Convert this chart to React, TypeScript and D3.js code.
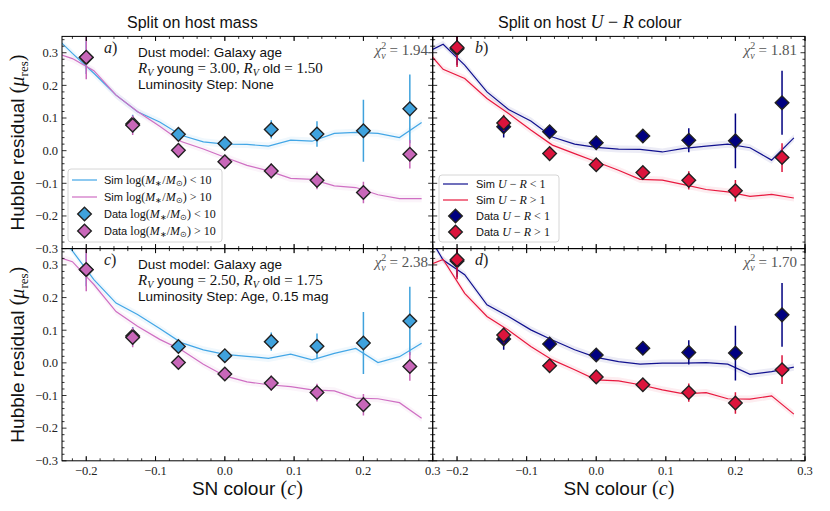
import React from 'react';
import * as d3 from 'd3';

// ---------- data ----------
const simX = [-0.252, -0.22, -0.189, -0.157, -0.126, -0.094, -0.063, -0.031, 0.0, 0.032, 0.063, 0.095, 0.126, 0.158, 0.189, 0.221, 0.252, 0.284];

const simA_low = [0.364, 0.298, 0.237, 0.17, 0.119, 0.088, 0.047, 0.027, 0.02, 0.019, 0.014, 0.032, 0.029, 0.053, 0.056, 0.053, 0.04, 0.086];
const simA_high = [0.305, 0.282, 0.245, 0.17, 0.12, 0.075, 0.028, 0.005, -0.02, -0.045, -0.062, -0.085, -0.088, -0.108, -0.113, -0.135, -0.147, -0.147];
const simC_low = [0.43, 0.343, 0.255, 0.183, 0.148, 0.105, 0.062, 0.04, 0.026, 0.02, 0.014, 0.027, 0.009, 0.029, 0.044, 0.001, 0.019, 0.06];
const simC_high = [0.331, 0.31, 0.24, 0.157, 0.112, 0.072, 0.04, -0.004, -0.04, -0.058, -0.067, -0.073, -0.083, -0.086, -0.108, -0.11, -0.122, -0.17];
const simB_low = [0.292, 0.326, 0.262, 0.18, 0.126, 0.091, 0.042, 0.02, 0.01, 0.005, 0.004, -0.004, 0.007, 0.014, 0.02, 0.009, -0.029, 0.039];
const simB_high = [0.328, 0.249, 0.221, 0.16, 0.114, 0.063, 0.017, -0.009, -0.034, -0.06, -0.088, -0.09, -0.104, -0.119, -0.126, -0.14, -0.134, -0.145];
const simD_low = [0.43, 0.315, 0.27, 0.178, 0.142, 0.101, 0.07, 0.04, 0.017, 0.004, -0.004, -0.001, -0.001, 0.001, -0.004, -0.035, -0.027, -0.013];
const simD_high = [0.29, 0.317, 0.213, 0.142, 0.1, 0.05, 0.009, -0.021, -0.052, -0.055, -0.067, -0.083, -0.095, -0.091, -0.11, -0.111, -0.101, -0.157];

const dataX = [-0.2, -0.133, -0.067, 0.0, 0.067, 0.133, 0.2, 0.267];
const massLowY = [0.285, 0.082, 0.05, 0.022, 0.065, 0.051, 0.061, 0.128];
const massLowErr = [0.05, 0.028, 0.018, 0.015, 0.028, 0.039, 0.095, 0.105];
const massHighY = [0.286, 0.078, 0.001, -0.034, -0.062, -0.091, -0.128, -0.011];
const massHighErr = [0.067, 0.03, 0.015, 0.015, 0.023, 0.027, 0.033, 0.044];
const urLowY = [0.312, 0.073, 0.058, 0.024, 0.045, 0.032, 0.03, 0.147];
const urLowErr = [0.05, 0.033, 0.018, 0.015, 0.02, 0.037, 0.084, 0.098];
const urHighY = [0.316, 0.085, -0.009, -0.043, -0.067, -0.091, -0.123, -0.021];
const urHighErr = [0.06, 0.025, 0.015, 0.015, 0.02, 0.028, 0.033, 0.044];

const xTicks = [-0.2, -0.1, 0.0, 0.1, 0.2, 0.3];
const yTicks = [-0.3, -0.2, -0.1, 0.0, 0.1, 0.2, 0.3];
const chiValues = ['1.94', '1.81', '2.38', '1.70'];

// ---------- style ----------
const SANS = "'Liberation Sans', Arial, sans-serif";
const SERIF = "'Liberation Serif', 'Times New Roman', serif";
const C_LB = '#42a6e6';
const C_LB_FILL = '#3fa2dd';
const C_MG = '#cf6fc3';
const C_MG_FILL = '#c867b9';
const C_NV = '#11118f';
const C_NV_FILL = '#000080';
const C_RD = '#e8193f';
const C_RD_FILL = '#dc143c';

const X_DOMAIN: [number, number] = [-0.235, 0.3];
const Y_DOMAIN: [number, number] = [-0.3, 0.35];
const LX0 = 62, MX = 432.7, RX1 = 805;
const TY0 = 36.4, MY = 248.6, BY1 = 460.8;

type S = { sim: number[]; y: number[]; err: number[]; line: string; fill: string };

const fmt = d3.format('.1f');

function Sub({ children, size = 9, d = 3 }: any) {
  return null;
}

function Panel(props: {
  id: string; x0: number; x1: number; y0: number; y1: number;
  series: S[]; xLabels: boolean; yLabels: boolean; children?: any;
}) {
  const { id, x0, x1, y0, y1, series, xLabels, yLabels } = props;
  const xs = d3.scaleLinear().domain(X_DOMAIN).range([x0, x1]);
  const ys = d3.scaleLinear().domain(Y_DOMAIN).range([y1, y0]);
  const band = 0.011;
  const line = d3.line<number>().x((_, i) => xs(simX[i])).y((d) => ys(d));
  const area = d3.area<number>().x((_, i) => xs(simX[i])).y0((d) => ys(d - band)).y1((d) => ys(d + band));
  const minorX = d3.range(-0.22, 0.301, 0.02);
  const minorY = d3.range(-0.3, 0.351, 0.02);
  const majL = 4.5, minL = 2.5;
  const r = 6.8;
  return (
    <g>
      <defs>
        <clipPath id={id}>
          <rect x={x0} y={y0} width={x1 - x0} height={y1 - y0} />
        </clipPath>
      </defs>
      <g clipPath={`url(#${id})`}>
        {series.map((s, k) => (
          <path key={'b' + k} d={area(s.sim) || ''} fill={s.line} opacity={0.08} />
        ))}
        {series.map((s, k) => (
          <path key={'l' + k} d={line(s.sim) || ''} fill="none" stroke={s.line} strokeWidth={1.2} />
        ))}
        {series.map((s, k) => (
          <g key={'d' + k}>
            {dataX.map((xv, i) => (
              <line key={'e' + i} x1={xs(xv)} x2={xs(xv)} y1={ys(s.y[i] - s.err[i])} y2={ys(s.y[i] + s.err[i])}
                stroke={s.fill} strokeWidth={1.5} />
            ))}
            {dataX.map((xv, i) => (
              <path key={'m' + i} transform={`translate(${xs(xv)},${ys(s.y[i])})`}
                d={`M0,${-r}L${r},0L0,${r}L${-r},0Z`} fill={s.fill} stroke="#222" strokeWidth={1.4} />
            ))}
          </g>
        ))}
      </g>
      {/* ticks */}
      {minorX.map((t, i) => {
        const X = xs(t);
        const maj = xTicks.some((m) => Math.abs(m - t) < 1e-6);
        const L = maj ? majL : minL;
        return (
          <g key={'tx' + i} stroke="#000" strokeWidth={0.8}>
            <line x1={X} x2={X} y1={y1} y2={y1 - L} />
            <line x1={X} x2={X} y1={y0} y2={y0 + L} />
          </g>
        );
      })}
      {xTicks.filter((t) => t > X_DOMAIN[0]).map((t, i) => (
        <g key={'txm' + i} stroke="#000" strokeWidth={0.8}>
          <line x1={xs(t)} x2={xs(t)} y1={y1} y2={y1 - majL} />
          <line x1={xs(t)} x2={xs(t)} y1={y0} y2={y0 + majL} />
        </g>
      ))}
      {minorY.map((t, i) => {
        const Y = ys(t);
        const maj = yTicks.some((m) => Math.abs(m - t) < 1e-6);
        const L = maj ? majL : minL;
        return (
          <g key={'ty' + i} stroke="#000" strokeWidth={0.8}>
            <line x1={x0} x2={x0 + L} y1={Y} y2={Y} />
            <line x1={x1} x2={x1 - L} y1={Y} y2={Y} />
          </g>
        );
      })}
      <rect x={x0} y={y0} width={x1 - x0} height={y1 - y0} fill="none" stroke="#000" strokeWidth={1} />
      {xLabels && xTicks.filter((t) => t > X_DOMAIN[0]).map((t, i) => (
        <text key={'xl' + i} x={xs(t)} y={y1 + 14} textAnchor="middle" fontFamily={SERIF} fontSize={12.5} fill="#222">
          {fmt(t)}
        </text>
      ))}
      {yLabels && yTicks.map((t, i) => (
        <text key={'yl' + i} x={x0 - 4} y={ys(t) + 4.3} textAnchor="end" fontFamily={SERIF} fontSize={12.5} fill="#222">
          {fmt(t)}
        </text>
      ))}
      {props.children}
    </g>
  );
}

function Chi({ x, y, v }: { x: number; y: number; v: string }) {
  return (
    <text x={x} y={y} textAnchor="end" fontFamily={SERIF} fontSize={15} fill="#555">
      <tspan fontStyle="italic">χ</tspan>
      <tspan fontSize={10} dy={-6}>2</tspan>
      <tspan fontSize={10} fontStyle="italic" dx={-5} dy={10}>ν</tspan>
      <tspan dy={-4}> = {v}</tspan>
    </text>
  );
}

function DustText({ x, y, rvy, rvo, step }: { x: number; y: number; rvy: string; rvo: string; step: string }) {
  const fs = 13.5;
  return (
    <g fill="#111" fontSize={fs}>
      <text x={x} y={y} fontFamily={SANS}>Dust model: Galaxy age</text>
      <text x={x} y={y + 16} fontFamily={SANS}>
        <tspan fontFamily={SERIF} fontStyle="italic" fontSize={15}>R</tspan>
        <tspan fontFamily={SERIF} fontStyle="italic" fontSize={10} dy={3}>V</tspan>
        <tspan dy={-3}> young </tspan>
        <tspan fontFamily={SERIF} fontSize={15}>= {rvy},</tspan>
        <tspan fontFamily={SERIF} fontStyle="italic" fontSize={15}> R</tspan>
        <tspan fontFamily={SERIF} fontStyle="italic" fontSize={10} dy={3}>V</tspan>
        <tspan dy={-3}> old </tspan>
        <tspan fontFamily={SERIF} fontSize={15}>= {rvo}</tspan>
      </text>
      <text x={x} y={y + 32} fontFamily={SANS}>Luminosity Step: {step}</text>
    </g>
  );
}

function PanelTag({ x, y, t }: { x: number; y: number; t: string }) {
  return (
    <text x={x} y={y} fontFamily={SERIF} fontStyle="italic" fontSize={16} fill="#222">
      {t}<tspan fontStyle="normal">)</tspan>
    </text>
  );
}

function Legend({ x, y, w, h, rows, lx0, lx1, tx }: any) {
  const r = 6.8;
  return (
    <g>
      <rect x={x} y={y} width={w} height={h} rx={3} fill="#fff" fillOpacity={0.85} stroke="#ccc" strokeWidth={0.8} />
      {rows.map((row: any, i: number) => (
        <g key={i}>
          {row.kind === 'line' ? (
            <line x1={lx0} x2={lx1} y1={row.y} y2={row.y} stroke={row.color} strokeWidth={1.2} />
          ) : (
            <path transform={`translate(${(lx0 + lx1) / 2},${row.y})`} d={`M0,${-r}L${r},0L0,${r}L${-r},0Z`}
              fill={row.color} stroke="#222" strokeWidth={1.4} />
          )}
          <text x={tx} y={row.y + 4} fontSize={11} fontFamily={SANS} fill="#111">{row.label}</text>
        </g>
      ))}
    </g>
  );
}

function MassLabel({ pre, op }: { pre: string; op: string }) {
  return (
    <>
      <tspan>{pre} </tspan>
      <tspan fontFamily={SERIF} fontSize={12}>log(</tspan>
      <tspan fontFamily={SERIF} fontStyle="italic" fontSize={12}>M</tspan>
      <tspan fontFamily={SERIF} fontSize={8} dy={2}>∗</tspan>
      <tspan fontFamily={SERIF} fontSize={12} dy={-2}>/</tspan>
      <tspan fontFamily={SERIF} fontStyle="italic" fontSize={12}>M</tspan>
      <tspan fontFamily={SERIF} fontSize={8} dy={2}>⊙</tspan>
      <tspan fontFamily={SERIF} fontSize={12} dy={-2}>) {op} 10</tspan>
    </>
  );
}

function URLabel({ pre, op }: { pre: string; op: string }) {
  return (
    <>
      <tspan>{pre} </tspan>
      <tspan fontFamily={SERIF} fontStyle="italic" fontSize={12}>U</tspan>
      <tspan fontFamily={SERIF} fontSize={12}> − </tspan>
      <tspan fontFamily={SERIF} fontStyle="italic" fontSize={12}>R</tspan>
      <tspan fontFamily={SERIF} fontSize={12}> {op} 1</tspan>
    </>
  );
}

function YLabel({ cy }: { cy: number }) {
  return (
    <text transform={`translate(24,${cy}) rotate(-90)`} textAnchor="middle" fontFamily={SANS} fontSize={19} fill="#111">
      Hubble residual <tspan fontFamily={SERIF} fontSize={20}>(</tspan>
      <tspan fontFamily={SERIF} fontStyle="italic" fontSize={20}>μ</tspan>
      <tspan fontFamily={SERIF} fontSize={13} dy={4}>res</tspan>
      <tspan fontFamily={SERIF} fontSize={20} dy={-4}>)</tspan>
    </text>
  );
}

function XLabel({ cx }: { cx: number }) {
  return (
    <text x={cx} y={495} textAnchor="middle" fontFamily={SANS} fontSize={19} fill="#111">
      SN colour <tspan fontFamily={SERIF} fontSize={20}>(</tspan>
      <tspan fontFamily={SERIF} fontStyle="italic" fontSize={20}>c</tspan>
      <tspan fontFamily={SERIF} fontSize={20}>)</tspan>
    </text>
  );
}

export default function App() {
  const sA: S[] = [
    { sim: simA_low, y: massLowY, err: massLowErr, line: C_LB, fill: C_LB_FILL },
    { sim: simA_high, y: massHighY, err: massHighErr, line: C_MG, fill: C_MG_FILL },
  ];
  const sC: S[] = [
    { sim: simC_low, y: massLowY, err: massLowErr, line: C_LB, fill: C_LB_FILL },
    { sim: simC_high, y: massHighY, err: massHighErr, line: C_MG, fill: C_MG_FILL },
  ];
  const sB: S[] = [
    { sim: simB_low, y: urLowY, err: urLowErr, line: C_NV, fill: C_NV_FILL },
    { sim: simB_high, y: urHighY, err: urHighErr, line: C_RD, fill: C_RD_FILL },
  ];
  const sD: S[] = [
    { sim: simD_low, y: urLowY, err: urLowErr, line: C_NV, fill: C_NV_FILL },
    { sim: simD_high, y: urHighY, err: urHighErr, line: C_RD, fill: C_RD_FILL },
  ];
  return (
    <svg width={830} height={511} style={{ position: 'absolute', left: 0, top: 0, background: '#fff' }}>
      <rect x={0} y={0} width={830} height={511} fill="#fff" />
      <text x={127} y={28} fontFamily={SANS} fontSize={16} fill="#111">Split on host mass</text>
      <text x={498} y={28} fontFamily={SANS} fontSize={16} fill="#111">
        Split on host <tspan fontFamily={SERIF} fontStyle="italic" fontSize={18}>U</tspan>
        <tspan fontFamily={SERIF} fontSize={18}> − </tspan>
        <tspan fontFamily={SERIF} fontStyle="italic" fontSize={18}>R</tspan> colour
      </text>

      <Panel id="pa" x0={LX0} x1={MX} y0={TY0} y1={MY} series={sA} xLabels={false} yLabels={true}>
        <PanelTag x={104} y={53} t="a" />
        <DustText x={138} y={56.5} rvy="3.00" rvo="1.50" step="None" />
        <Chi x={428} y={55} v={chiValues[0]} />
        <Legend x={68} y={169} w={154} h={73} lx0={72} lx1={97} tx={104}
          rows={[
            { kind: 'line', color: C_LB, y: 180, label: <MassLabel pre="Sim" op="<" /> },
            { kind: 'line', color: C_MG, y: 197, label: <MassLabel pre="Sim" op=">" /> },
            { kind: 'marker', color: C_LB_FILL, y: 214, label: <MassLabel pre="Data" op="<" /> },
            { kind: 'marker', color: C_MG_FILL, y: 231, label: <MassLabel pre="Data" op=">" /> },
          ]} />
      </Panel>
      <Panel id="pb" x0={MX} x1={RX1} y0={TY0} y1={MY} series={sB} xLabels={false} yLabels={false}>
        <PanelTag x={475} y={53} t="b" />
        <Chi x={797} y={55} v={chiValues[1]} />
        <Legend x={439} y={175} w={120} h={67} lx0={443} lx1={468} tx={476}
          rows={[
            { kind: 'line', color: C_NV, y: 184, label: <URLabel pre="Sim" op="<" /> },
            { kind: 'line', color: C_RD, y: 200, label: <URLabel pre="Sim" op=">" /> },
            { kind: 'marker', color: C_NV_FILL, y: 216, label: <URLabel pre="Data" op="<" /> },
            { kind: 'marker', color: C_RD_FILL, y: 232, label: <URLabel pre="Data" op=">" /> },
          ]} />
      </Panel>
      <Panel id="pc" x0={LX0} x1={MX} y0={MY} y1={BY1} series={sC} xLabels={true} yLabels={true}>
        <PanelTag x={104} y={265} t="c" />
        <DustText x={138} y={268.5} rvy="2.50" rvo="1.75" step="Age, 0.15 mag" />
        <Chi x={428} y={267} v={chiValues[2]} />
      </Panel>
      <Panel id="pd" x0={MX} x1={RX1} y0={MY} y1={BY1} series={sD} xLabels={true} yLabels={false}>
        <PanelTag x={475} y={265} t="d" />
        <Chi x={797} y={267} v={chiValues[3]} />
      </Panel>

      <YLabel cy={(TY0 + MY) / 2} />
      <YLabel cy={(MY + BY1) / 2} />
      <XLabel cx={(LX0 + MX) / 2} />
      <XLabel cx={(MX + RX1) / 2} />
    </svg>
  );
}
